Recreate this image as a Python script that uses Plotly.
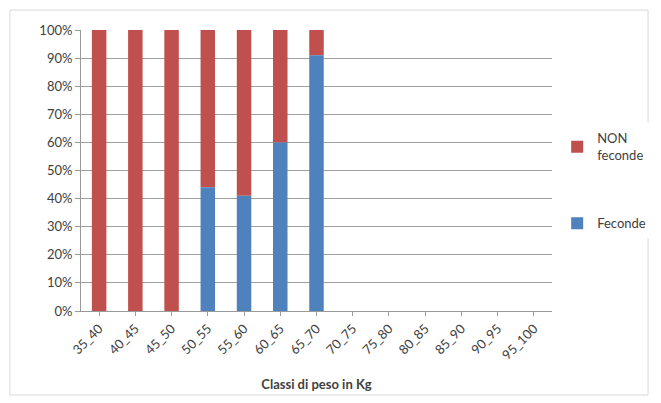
import plotly.graph_objects as go

# classi di peso e percentuali
classi = ["35_40", "40_45", "45_50", "50_55", "55_60", "60_65", "65_70",
          "70_75", "75_80", "80_85", "85_90", "90_95", "95_100"]
feconde = [0, 0, 0, 44, 41, 60, 91, None, None, None, None, None, None]
non_feconde = [100, 100, 100, 56, 59, 40, 9, None, None, None, None, None, None]

blue = "#4F81BD"
red = "#C0504D"

# base delle barre rosse = quota feconde (barre impilate a mano)
base_non = [v if v is not None else 0 for v in feconde]

fig = go.Figure()
fig.add_trace(go.Bar(x=classi, y=non_feconde, base=base_non,
                     name="NON<br>feconde", marker_color=red,
                     marker_line_width=0, legendgroup="a"))
fig.add_trace(go.Bar(x=classi, y=feconde, name="Feconde", marker_color=blue,
                     marker_line_width=0, legendgroup="b"))

# la pagina html ha 8px di margine sul body: dimensioni ridotte di conseguenza
fig.update_layout(
    barmode="overlay",
    bargap=0.6,
    width=653,
    height=395,
    margin=dict(l=73, r=109, t=22, b=92, autoexpand=False),
    paper_bgcolor="white",
    plot_bgcolor="white",
    font=dict(family="Lato", size=13, color="#404040"),
    showlegend=True,
    legend=dict(x=1.011, y=0.463, xanchor="left", yanchor="middle",
                traceorder="grouped", tracegroupgap=48,
                font=dict(size=13, color="#404040"), itemwidth=30),
    xaxis=dict(
        automargin=False,
        tickangle=-45,
        tickfont=dict(size=13),
        showgrid=False,
        showline=True,
        linecolor="#9a9a9a",
        ticks="outside",
        tickcolor="#9a9a9a",
        ticklen=4,
        title=dict(text="<b>Classi di peso in Kg</b>", font=dict(size=13),
                   standoff=18),
    ),
    yaxis=dict(
        automargin=False,
        range=[0, 100],
        dtick=10,
        ticksuffix="%",
        tickfont=dict(size=13),
        showgrid=True,
        gridcolor="#a0a0a0",
        showline=True,
        linecolor="#9a9a9a",
        ticks="outside",
        tickcolor="#9a9a9a",
        ticklen=5,
        zeroline=False,
    ),
)

# bordo dell'area del grafico
fig.add_shape(type="rect", xref="paper", yref="paper",
              x0=-0.151, x1=1.204, y0=-0.299, y1=1.071,
              line=dict(color="#d9d9d9", width=1), layer="below")

fig.write_html("out.html")
